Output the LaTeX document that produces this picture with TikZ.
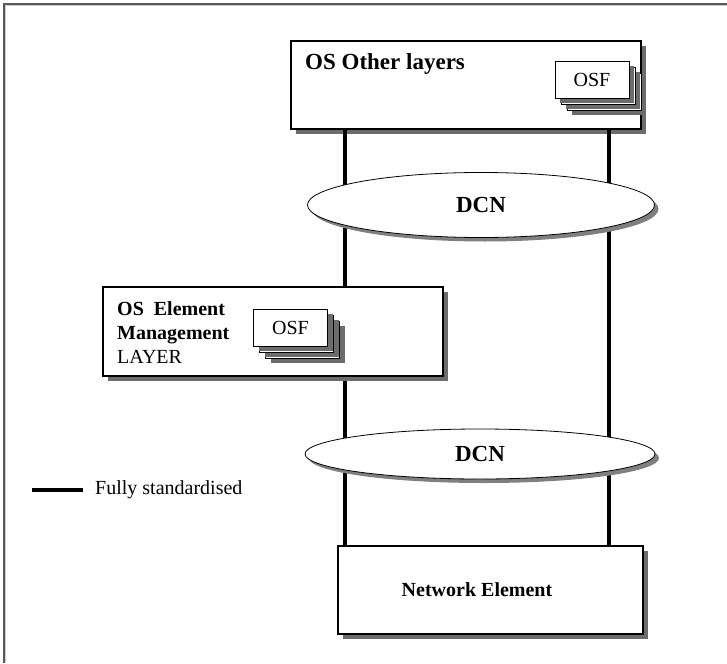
\documentclass[tikz,border=0pt]{standalone}
\usepackage{fontspec}
\setmainfont{Liberation Serif}
\usetikzlibrary{shapes.geometric,shadows,positioning}

% three OSF cards, one behind the other
\newcommand{\osfstack}[2]{%
\node[osfcard,xshift=12pt,yshift=-12pt] (#1c) at (#2) {};
\node[osfcard,xshift=6pt,yshift=-6pt] (#1b) at (#2) {};
\node[osfcard] (#1a) at (#2) {OSF};
}

\begin{document}
\begin{tikzpicture}[x=1pt,y=-1pt,
  layerbox/.style={draw,line width=1.2pt,fill=white,rectangle,inner sep=0pt,
    drop shadow={shadow xshift=5pt,shadow yshift=-5pt,fill=gray!85!black,opacity=1}},
  dcnnet/.style={draw,line width=0.8pt,fill=white,ellipse,inner sep=0pt,
    font=\fontsize{23}{26}\selectfont\bfseries,
    drop shadow={shadow xshift=4pt,shadow yshift=-4pt,fill=gray,opacity=1}},
  osfcard/.style={draw,line width=1pt,fill=white,inner sep=0pt,
    minimum width=74pt,minimum height=37pt,font=\fontsize{20}{22}\selectfont,
    drop shadow={shadow xshift=5pt,shadow yshift=-5pt,fill=gray!85!black,opacity=1}},
  link/.style={line width=4pt}]
\useasboundingbox (0,0) rectangle (727,663);

% frame
\draw[gray!70!black,line width=1.5pt] (727,4) -- (4,4) -- (4,663);
\draw[gray!40,line width=0.8pt] (727,5.8) -- (5.8,5.8) -- (5.8,663);

% layers
\node[layerbox,minimum width=350pt,minimum height=88pt] (osother) at (466,85) {};
\node[layerbox,minimum width=305pt,minimum height=88pt] (ne) at (490.5,590) {};
\coordinate (lleft) at (345,0);
\coordinate (lright) at (609,0);

% standardised links
\draw[link] (osother.south -| lleft) -- (ne.north -| lleft);
\draw[link] (osother.south -| lright) -- (ne.north -| lright);

\node[dcnnet,minimum width=347pt,minimum height=65pt] (dcnA) at (481,205) {DCN};
\node[layerbox,minimum width=340pt,minimum height=89pt] (em) at (273,331.5) {};
\node[dcnnet,minimum width=350pt,minimum height=50pt] (dcnB) at (480,454) {DCN};

% texts
\node[anchor=west,inner sep=0pt,font=\fontsize{23}{26}\selectfont\bfseries]
  (ostitle) at (305,64) {OS Other layers};
\node[anchor=west,inner sep=0pt,align=left,font=\fontsize{20}{24}\selectfont]
  (emtitle) at (117,333) {\textbf{OS}\ \ \textbf{Element}\\\textbf{Management}\\LAYER};
\node[inner sep=0pt,font=\fontsize{20}{22}\selectfont\bfseries]
  (netitle) at (477,590) {Network Element};

\osfstack{osfA}{592,80}
\osfstack{osfB}{290.5,327.5}

% legend
\coordinate (legA) at (32,490);
\coordinate (legB) at (83,490);
\draw[link] (legA) -- (legB);
\node[right=12pt of legB,inner sep=0pt,font=\fontsize{20}{22}\selectfont]
  (legtext) {Fully standardised};
\end{tikzpicture}
\end{document}
